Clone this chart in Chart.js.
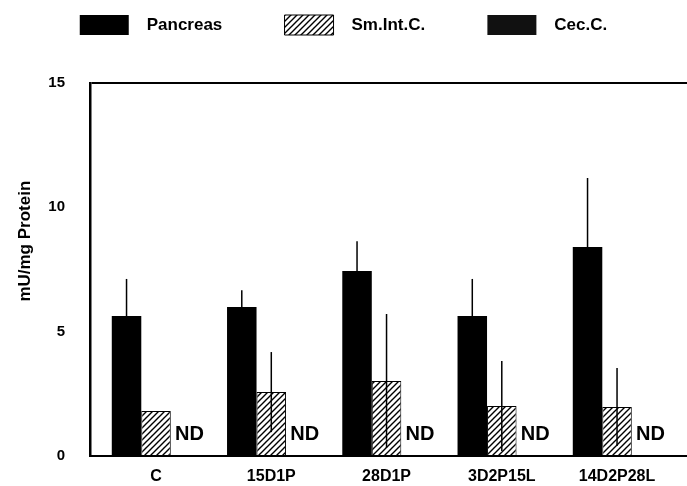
<!DOCTYPE html>
<html lang="en">
<head>
<meta charset="UTF-8">
<title>mU/mg Protein</title>
<script src="https://cdn.jsdelivr.net/npm/chart.js"></script>
<style>
  body { margin: 0; background: #fff; }
  #wrap { width: 687px; height: 486px; }
</style>
</head>
<body>
<div id="wrap"><canvas id="chart"></canvas></div>
<script>
const groups = ['C', '15D1P', '28D1P', '3D2P15L', '14D2P28L'];
const pancreas = [5.63, 5.99, 7.44, 5.63, 8.40];
const pancreasErr = [1.49, 0.68, 1.20, 1.49, 2.78];
const smInt = [1.81, 2.57, 3.02, 2.01, 1.97];
const smIntErr = [0, 1.61, 2.69, 1.81, 1.57];
const cecC = [null, null, null, null, null]; // ND = not detected

Chart.defaults.font.family = "'Liberation Sans', Arial, sans-serif";
Chart.defaults.color = '#000';

// diagonal hatch for the small intestine bars
function hatch() {
  const c = document.createElement('canvas');
  c.width = 6; c.height = 6;
  const g = c.getContext('2d');
  g.fillStyle = '#fff';
  g.fillRect(0, 0, 6, 6);
  g.strokeStyle = '#000';
  g.lineWidth = 1.4;
  g.beginPath();
  g.moveTo(0, 6); g.lineTo(6, 0);
  g.moveTo(-3, 3); g.lineTo(3, -3);
  g.moveTo(3, 9); g.lineTo(9, 3);
  g.stroke();
  return g.createPattern(c, 'repeat');
}

const points = vals => vals.map((v, i) => ({ x: i, y: v }));

// error bars + ND labels
const extras = {
  id: 'extras',
  afterDatasetsDraw(chart) {
    const ctx = chart.ctx;
    const y = chart.scales.y;
    ctx.save();
    ctx.strokeStyle = '#000';
    ctx.lineWidth = 1.5;
    [[pancreas, pancreasErr], [smInt, smIntErr]].forEach(([vals, errs], d) => {
      chart.getDatasetMeta(d).data.forEach((bar, i) => {
        if (!errs[i]) return;
        ctx.beginPath();
        ctx.moveTo(bar.x, y.getPixelForValue(Math.max(vals[i] - errs[i], 0)));
        ctx.lineTo(bar.x, y.getPixelForValue(vals[i] + errs[i]));
        ctx.stroke();
      });
    });
    ctx.fillStyle = '#000';
    ctx.font = "bold 20px 'Liberation Sans', Arial, sans-serif";
    ctx.textAlign = 'center';
    ctx.textBaseline = 'middle';
    chart.getDatasetMeta(2).data.forEach((bar, i) => {
      if (cecC[i] == null) ctx.fillText('ND', bar.x + 4, y.getPixelForValue(0) - 22);
    });
    ctx.restore();
  }
};

const legendSpace = {
  id: 'legendSpace',
  beforeInit(chart) {
    const fit = chart.legend.fit;
    chart.legend.fit = function () {
      fit.call(this);
      this.height += 38;
    };
  }
};

new Chart(document.getElementById('chart'), {
  type: 'bar',
  data: {
    datasets: [
      { label: 'Pancreas', data: points(pancreas), backgroundColor: '#000', borderWidth: 0 },
      { label: 'Sm.Int.C.', data: points(smInt), backgroundColor: hatch(), borderColor: '#000', borderWidth: 1 },
      { label: 'Cec.C.', data: points(cecC), backgroundColor: '#111', borderWidth: 0 }
    ]
  },
  plugins: [extras, legendSpace],
  options: {
    responsive: true,
    maintainAspectRatio: false,
    animation: false,
    datasets: { bar: { categoryPercentage: 0.768, barPercentage: 1 } },
    plugins: {
      tooltip: { enabled: false },
      legend: {
        position: 'top',
        labels: {
          boxWidth: 49,
          boxHeight: 20,
          padding: 15,
          font: { size: 17, weight: 'bold' },
          generateLabels(chart) {
            const items = Chart.defaults.plugins.legend.labels.generateLabels(chart);
            items.forEach((it, i) => {
              it.text = '  ' + it.text + (i < items.length - 1 ? ' '.repeat(10) : '');
            });
            return items;
          }
        }
      }
    },
    scales: {
      x: {
        type: 'linear',
        offset: false,
        min: -0.573,
        max: 4.607,
        afterBuildTicks(scale) {
          scale.ticks = groups.map((g, i) => ({ value: i }));
        },
        afterFit(scale) { scale.height = 30; },
        ticks: {
          callback: v => groups[v],
          font: { size: 16, weight: 'bold' },
          padding: 11,
          maxRotation: 0,
          autoSkip: false
        },
        grid: { display: false, drawTicks: false },
        border: { color: '#000', width: 2 }
      },
      y: {
        min: 0,
        max: 15,
        afterFit(scale) {
          scale.width = 90;
          scale.paddingBottom = 10; // tick padding would otherwise lift the x axis
        },
        ticks: { stepSize: 5, font: { size: 15, weight: 'bold' }, padding: 25 },
        grid: {
          drawTicks: false,
          lineWidth: 2,
          color: c => (c.tick && c.tick.value === 15 ? '#000' : 'rgba(0,0,0,0)')
        },
        border: { color: '#000', width: 2.5 },
        title: {
          display: true,
          text: ' '.repeat(12) + 'mU/mg Protein',
          font: { size: 17, weight: 'bold' },
          padding: { top: 15, bottom: 0 }
        }
      }
    }
  }
});
</script>
</body>
</html>
